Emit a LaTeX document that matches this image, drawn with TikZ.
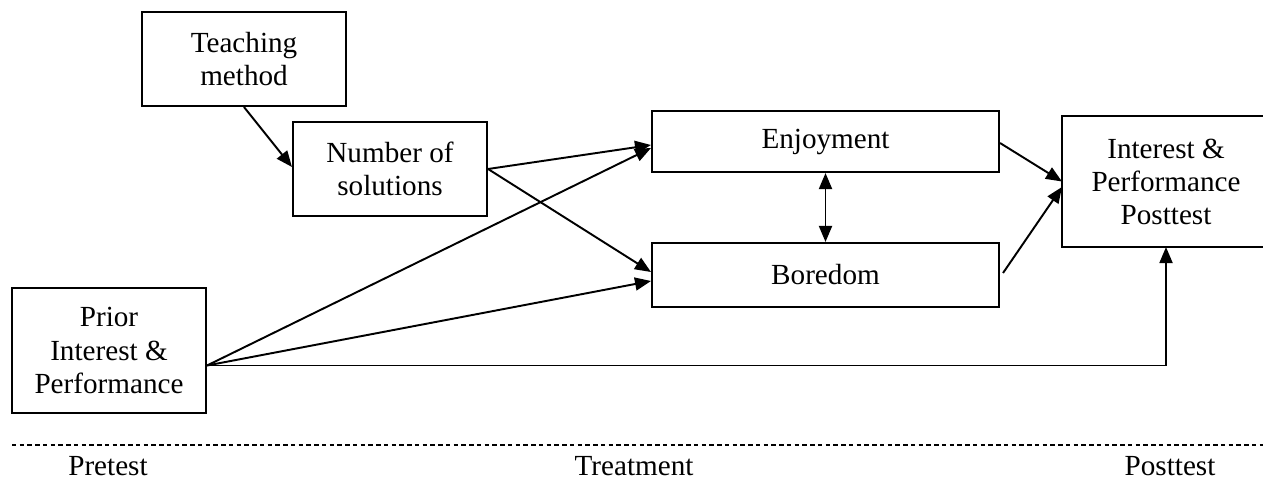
\documentclass[tikz,border=0pt]{standalone}
\usepackage{fontspec}
\setmainfont{Liberation Serif}
\usetikzlibrary{arrows.meta}
\usetikzlibrary{calc}
\usetikzlibrary{positioning}

\begin{document}
\begin{tikzpicture}
	[x=0.02cm,y=-0.02cm,
	 every node/.style={font=\fontsize{16.6}{18.8}\selectfont},
	 box/.style={draw,line width=1.2pt,align=center,inner sep=0pt},
	 openbox/.style={box,draw=none},
	 >={Triangle[length=0.32cm,width=0.26cm]},
	 link/.style={line width=1.1pt,->}]
	\useasboundingbox (0,0) rectangle (1263,482);
	% boxes
	\node[box,minimum width=4.08cm,minimum height=1.88cm] (teach) at (244,59) {Teaching\\method};
	\node[box,minimum width=3.88cm,minimum height=1.88cm] (num) at (390,169) {Number of\\solutions};
	\node[box,minimum width=6.94cm,minimum height=1.22cm] (enj) at (825.5,141.5) {Enjoyment};
	\node[box,minimum width=6.94cm,minimum height=1.28cm] (bor) at (825.5,275) {Boredom};
	\node[openbox,minimum width=4.12cm,minimum height=2.58cm] (post) at (1166,181.5) {Interest \&\\Performance\\Posttest};
	\node[box,minimum width=3.88cm,minimum height=2.5cm] (prior) at (109,350.5) {Prior\\Interest \&\\Performance};
	% posttest box runs off the right margin
	\draw[line width=1.2pt] ($(post.north east)+(30,0)$) -- (post.north west) -- (post.south west) -- ($(post.south east)+(30,0)$);
	\coordinate (pout) at ($(prior.east)+(0,15)$);
	% arrows
	\draw[link] (teach.south) -- ($(num.west)+(0,-2)$);
	\draw[link] (num.east) -- ($(enj.west)+(0,3.5)$);
	\draw[link] (num.east) -- ($(bor.west)+(0,-3)$);
	\draw[link] (pout) -- ($(enj.west)+(0,6.5)$);
	\draw[link] (pout) -- ($(bor.west)+(0,6)$);
	\draw[link] (pout) -| (post.south);
	\draw[link] ($(enj.east)+(0,1.5)$) -- (post.west);
	\draw[link] ($(bor.east)+(3,-2)$) -- ($(post.west)+(0,5.5)$);
	\draw[line width=1.1pt,<->] (enj.south) -- (bor.north);
	% phases
	\coordinate (dl) at (12,445);
	\coordinate (dr) at (1263,445);
	\draw[line width=0.6pt,dash pattern=on 0.09cm off 0.065cm] (dl) -- (dr);
	\node[anchor=base] (pre) at (108,475) {Pretest};
	\node[anchor=base] (treat) at (634,475) {Treatment};
	\node[anchor=base] (postt) at (1170,475) {Posttest};
\end{tikzpicture}
\end{document}
